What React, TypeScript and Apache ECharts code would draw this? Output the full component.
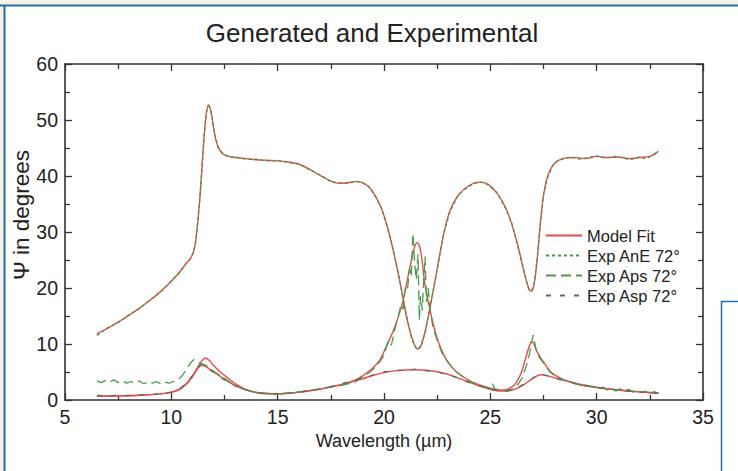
import React, { useEffect, useRef } from "react";
import * as echarts from "echarts";

// Wavelength (µm) / Ψ (degrees) pairs
const modelAnE: [number, number][] = [
  [6.5, 11.8], [7, 12.8], [7.5, 13.9], [8, 15.1], [8.5, 16.4], [9, 17.8], [9.5, 19.4], [10, 21.2],
  [10.4, 22.9], [10.7, 24.4], [10.9, 25.3], [11.05, 26.5], [11.15, 28.5], [11.25, 32], [11.35, 36.5],
  [11.45, 42], [11.55, 47.5], [11.65, 51.3], [11.75, 52.7], [11.85, 51.8], [11.95, 49.5], [12.05, 47.2],
  [12.2, 45.2], [12.4, 44.0], [12.7, 43.5], [13, 43.3], [13.5, 43.1], [14, 42.9], [14.5, 42.8],
  [15, 42.7], [15.5, 42.5], [16, 42.1], [16.5, 41.2], [17, 40.1], [17.5, 39.1], [17.9, 38.7],
  [18.3, 38.8], [18.7, 39.0], [19.0, 38.8], [19.3, 38.0], [19.6, 36.4], [19.9, 34.0], [20.2, 30.4],
  [20.5, 25.6], [20.8, 20.2], [21.05, 15.0], [21.3, 11.2], [21.5, 9.3], [21.6, 9.1], [21.75, 9.8],
  [21.95, 12.5], [22.2, 17.2], [22.5, 23.4], [22.8, 29.5], [23.1, 33.8], [23.5, 36.6], [24.0, 38.3],
  [24.5, 38.9], [24.9, 38.5], [25.3, 37.0], [25.7, 34.5], [26.0, 31.5], [26.3, 27.5], [26.6, 22.6],
  [26.8, 20.0], [26.92, 19.4], [27.05, 20.5], [27.2, 25.0], [27.35, 31.5], [27.5, 36.5], [27.7, 40.0],
  [28, 42.2], [28.4, 43.1], [29, 43.3], [29.5, 43.1], [30, 43.5], [30.5, 43.3], [31, 43.4],
  [31.5, 43.1], [32, 43.3], [32.5, 43.5], [32.9, 44.4],
];

const modelAps: [number, number][] = [
  [6.5, 0.7], [7.5, 0.75], [8.5, 0.85], [9.5, 1.1], [10, 1.4], [10.4, 2.0], [10.7, 2.9], [11.0, 4.3],
  [11.2, 5.6], [11.4, 6.8], [11.6, 7.5], [11.8, 7.0], [12.0, 6.1], [12.3, 5.0], [12.7, 3.8],
  [13.1, 2.7], [13.5, 1.9], [14, 1.35], [14.5, 1.15], [15, 1.1], [15.5, 1.2], [16, 1.4], [16.5, 1.65],
  [17, 1.95], [17.5, 2.3], [18, 2.7], [18.5, 3.3], [19, 4.3], [19.5, 5.8], [19.8, 7.1], [20.1, 9.5],
  [20.4, 12.0], [20.7, 15.2], [20.9, 17.8], [21.1, 21.5], [21.3, 25.2], [21.45, 27.5], [21.56, 28.1],
  [21.68, 27.4], [21.8, 24.6], [21.93, 20.5], [22.1, 17.2], [22.3, 13.8], [22.5, 11.0], [22.7, 9.0],
  [22.95, 7.1], [23.3, 5.4], [23.7, 4.2], [24.1, 3.3], [24.5, 2.7], [25, 2.1], [25.4, 1.8],
  [25.7, 1.8], [26.0, 2.3], [26.2, 3.0], [26.45, 4.8], [26.7, 8.0], [26.85, 9.8], [26.95, 10.4],
  [27.05, 10.0], [27.2, 8.6], [27.5, 6.8], [27.8, 5.2], [28.1, 4.3], [28.6, 3.4], [29.2, 2.7],
  [30, 2.2], [30.5, 2.0], [31, 1.8], [31.5, 1.6], [32, 1.5], [32.5, 1.35], [32.9, 1.3],
];

const modelAsp: [number, number][] = [
  [6.5, 0.7], [7.5, 0.75], [8.5, 0.85], [9.5, 1.1], [10, 1.35], [10.4, 1.9], [10.7, 2.8], [11.0, 4.2],
  [11.2, 5.4], [11.4, 6.2], [11.6, 6.0], [11.8, 5.5], [12.1, 4.7], [12.5, 3.7], [13, 2.6], [13.5, 1.8],
  [14, 1.35], [14.5, 1.15], [15, 1.1], [15.5, 1.2], [16, 1.4], [16.5, 1.65], [17, 1.95], [17.5, 2.35],
  [18, 2.8], [18.5, 3.3], [19, 3.8], [19.5, 4.4], [20, 4.9], [20.5, 5.2], [21, 5.35], [21.5, 5.4],
  [22, 5.3], [22.5, 5.05], [23, 4.6], [23.5, 3.9], [24, 3.2], [24.5, 2.5], [25, 1.9], [25.4, 1.6],
  [25.8, 1.6], [26.2, 2.0], [26.6, 2.8], [26.9, 3.6], [27.2, 4.3], [27.4, 4.5], [27.7, 4.3], [28, 4.0],
  [28.5, 3.5], [29, 3.0], [29.5, 2.6], [30, 2.3], [30.5, 2.0], [31, 1.8], [31.5, 1.6], [32, 1.45],
  [32.5, 1.3], [32.9, 1.25],
];

const expAnE: [number, number][] = [
  [6.5, 11.5], [7, 12.9], [7.5, 13.8], [8, 15.2], [8.5, 16.3], [9, 17.9], [9.5, 19.3], [10, 21.3],
  [10.4, 22.8], [10.7, 24.5], [10.9, 25.2], [11.05, 26.6], [11.15, 28.4], [11.25, 32.2], [11.35, 36.4],
  [11.45, 42.2], [11.55, 47.3], [11.65, 51.4], [11.75, 52.5], [11.85, 51.9], [11.95, 49.3], [12.05, 47.3],
  [12.2, 45.0], [12.4, 44.1], [12.7, 43.4], [13, 43.4], [13.5, 43.0], [14, 43.0], [14.5, 42.7],
  [15, 42.8], [15.5, 42.4], [16, 42.2], [16.5, 41.1], [17, 40.2], [17.5, 39.0], [17.9, 38.8],
  [18.3, 38.7], [18.7, 39.1], [19.0, 38.7], [19.3, 38.1], [19.6, 36.3], [19.9, 34.1], [20.2, 30.2],
  [20.5, 25.8], [20.8, 20.0], [21.05, 15.2], [21.3, 11.0], [21.5, 9.4], [21.6, 9.0], [21.75, 9.9],
  [21.95, 12.3], [22.2, 17.4], [22.5, 23.2], [22.8, 29.7], [23.1, 33.6], [23.5, 36.7], [24.0, 38.2],
  [24.5, 39.0], [24.9, 38.4], [25.3, 37.1], [25.7, 34.3], [26.0, 31.7], [26.3, 27.3], [26.6, 22.8],
  [26.8, 19.8], [26.92, 19.5], [27.05, 20.3], [27.2, 25.2], [27.35, 31.3], [27.5, 36.7], [27.7, 39.8],
  [28, 42.4], [28.4, 43.0], [28.8, 43.4], [29.2, 43.0], [29.6, 43.3], [30, 43.6], [30.4, 43.2],
  [30.8, 43.5], [31.2, 43.3], [31.6, 42.9], [32, 43.4], [32.3, 43.1], [32.6, 43.6], [32.9, 44.3],
];

const expAps: [number, number][] = [
  [6.5, 3.4], [6.7, 3.1], [6.9, 3.5], [7.1, 3.2], [7.3, 3.6], [7.5, 3.1], [7.7, 3.4], [7.9, 3.0],
  [8.1, 3.3], [8.3, 3.1], [8.5, 3.4], [8.7, 2.9], [8.9, 3.2], [9.1, 3.0], [9.3, 3.3], [9.5, 2.9],
  [9.7, 3.2], [9.9, 3.0], [10.1, 3.3], [10.3, 3.6], [10.5, 4.3], [10.7, 5.4], [10.9, 6.6], [11.05, 7.2],
  [11.2, 7.0], [11.35, 6.6], [11.5, 6.4], [11.7, 6.0], [11.9, 5.4], [12.2, 4.6], [12.6, 3.6],
  [13.0, 2.6], [13.5, 1.8], [14, 1.3], [14.5, 1.15], [15, 1.1], [15.5, 1.25], [16, 1.45], [16.5, 1.7],
  [17, 2.0], [17.5, 2.4], [18, 2.6], [18.3, 2.9], [18.6, 3.1], [18.9, 3.9], [19.2, 4.6], [19.5, 5.5],
  [19.8, 6.8], [20.0, 8.0], [20.2, 10.6], [20.35, 9.8], [20.5, 12.5], [20.65, 14.6], [20.8, 17.0],
  [20.9, 16.2], [21.0, 20.0], [21.1, 19.5], [21.2, 23.5], [21.28, 22.0], [21.36, 29.8], [21.45, 24.0],
  [21.52, 21.5], [21.6, 26.0], [21.66, 14.3], [21.72, 18.5], [21.8, 16.0], [21.86, 21.0], [21.93, 25.6],
  [22.0, 17.5], [22.08, 20.0], [22.16, 16.4], [22.3, 13.0], [22.47, 11.0], [22.7, 8.6], [22.94, 7.1],
  [23.3, 5.3], [23.7, 4.2], [24.1, 3.2], [24.5, 2.6], [24.8, 2.3], [25.0, 2.0], [25.1, 2.9],
  [25.2, 2.0], [25.5, 1.8], [25.8, 1.6], [26.1, 2.0], [26.3, 2.8], [26.5, 4.0], [26.7, 6.2],
  [26.85, 8.4], [26.95, 10.5], [27.02, 11.6], [27.1, 10.0], [27.2, 8.2], [27.35, 7.4], [27.5, 6.6],
  [27.8, 5.0], [28.1, 4.1], [28.5, 3.5], [29.0, 2.9], [29.5, 2.5], [29.9, 2.4], [30.1, 1.8],
  [30.3, 2.3], [30.5, 1.8], [30.7, 2.1], [30.9, 1.6], [31.1, 2.0], [31.3, 1.6], [31.5, 1.9],
  [31.7, 1.4], [31.9, 1.7], [32.1, 1.3], [32.3, 1.6], [32.5, 1.0], [32.7, 1.5], [32.9, 1.2],
];

const expAsp: [number, number][] = [
  [6.5, 0.8], [7, 0.75], [7.5, 0.85], [8, 0.8], [8.5, 0.9], [9, 0.95], [9.5, 1.1], [10, 1.4],
  [10.4, 2.0], [10.7, 3.0], [11.0, 4.4], [11.2, 5.6], [11.4, 6.3], [11.6, 6.0], [11.8, 5.4],
  [12.1, 4.6], [12.5, 3.6], [13, 2.5], [13.5, 1.8], [14, 1.3], [14.5, 1.1], [15, 1.1], [15.5, 1.2],
  [16, 1.4], [16.5, 1.7], [17, 2.0], [17.5, 2.4], [18, 2.9], [18.5, 3.4], [19, 3.9], [19.5, 4.5],
  [20, 5.0], [20.5, 5.3], [21, 5.3], [21.5, 5.5], [22, 5.2], [22.5, 5.0], [23, 4.5], [23.5, 3.9],
  [24, 3.1], [24.5, 2.5], [25, 1.9], [25.4, 1.6], [25.8, 1.7], [26.2, 2.1], [26.6, 2.9], [26.9, 3.7],
  [27.2, 4.4], [27.4, 4.6], [27.7, 4.3], [28, 3.9], [28.5, 3.4], [29, 3.0], [29.5, 2.6], [30, 2.2],
  [30.5, 2.0], [31, 1.8], [31.5, 1.6], [32, 1.4], [32.5, 1.3], [32.9, 1.2],
];

const legendNames = ["Model Fit", "Exp AnE 72°", "Exp Aps 72°", "Exp Asp 72°"];
const xTicks = { min: 5, max: 35, interval: 5 };
const yTicks = { min: 0, max: 60, interval: 10 };

const FONT = "Arial, 'Liberation Sans', sans-serif";
const RED = "#ec4a4a";
const AXIS = "#333333";
const TEXT = "#222222";
const FRAME_BLUE = "#1f6ea8";
const BEIGE = "#f8f1e6";

export default function App() {
  const ref = useRef<HTMLDivElement>(null);

  useEffect(() => {
    if (!ref.current) return;
    const chart = echarts.init(ref.current, null, { renderer: "svg" });

    const axisCommon = {
      type: "value" as const,
      axisLine: { show: true, onZero: false, lineStyle: { color: AXIS, width: 1.6 } },
      axisTick: { show: true, inside: true, length: 7, lineStyle: { color: AXIS, width: 1.3 } },
      minorTick: { show: true, splitNumber: 2, length: 5, lineStyle: { color: AXIS, width: 1.3 } },
      splitLine: { show: false },
      minorSplitLine: { show: false },
    };
    const labelStyle = { fontSize: 19.5, color: TEXT, fontFamily: FONT };

    const modelLine = (data: [number, number][]) => ({
      name: "Model Fit",
      type: "line" as const,
      data,
      showSymbol: false,
      symbol: "none",
      smooth: 0.3,
      lineStyle: { color: RED, width: 1.4 },
      itemStyle: { color: RED },
      z: 2,
    });
    const expLine = (name: string, data: [number, number][], color: string, dash: number[], width: number) => ({
      name,
      type: "line" as const,
      data,
      showSymbol: false,
      symbol: "none",
      lineStyle: { color, width, type: dash },
      itemStyle: { color },
      z: 3,
    });

    chart.setOption({
      animation: false,
      backgroundColor: "#ffffff",
      title: {
        text: "Generated and Experimental",
        left: 367,
        textAlign: "center",
        top: 15,
        textStyle: { fontSize: 26, fontWeight: "normal", color: TEXT, fontFamily: FONT },
      },
      legend: {
        data: legendNames,
        orient: "vertical",
        left: 540,
        top: 222,
        itemWidth: 36,
        itemHeight: 14,
        itemGap: 3,
        itemStyle: { opacity: 0 },
        textStyle: { fontSize: 16.5, lineHeight: 17, color: TEXT, fontFamily: FONT },
      },
      grid: { left: 65, top: 64, width: 638, height: 336, containLabel: false },
      xAxis: [
        {
          ...axisCommon,
          position: "bottom",
          ...xTicks,
          name: "Wavelength (µm)",
          nameLocation: "middle",
          nameGap: 30,
          nameTextStyle: { fontSize: 18, color: TEXT, fontFamily: FONT },
          axisLabel: { ...labelStyle, margin: 7 },
        },
        {
          ...axisCommon,
          position: "top",
          ...xTicks,
          axisLabel: { show: false },
        },
      ],
      yAxis: [
        {
          ...axisCommon,
          position: "left",
          ...yTicks,
          axisLabel: { ...labelStyle, margin: 7 },
        },
        {
          ...axisCommon,
          position: "right",
          ...yTicks,
          axisLabel: { show: false },
        },
      ],
      graphic: [
        { type: "rect", shape: { x: 0, y: 0, width: 738, height: 5 }, style: { fill: BEIGE }, silent: true },
        { type: "rect", shape: { x: 0, y: 5, width: 4, height: 466 }, style: { fill: BEIGE }, silent: true },
        { type: "line", shape: { x1: 0, y1: 5.5, x2: 738, y2: 5.5 }, style: { stroke: FRAME_BLUE, lineWidth: 2 }, silent: true },
        { type: "line", shape: { x1: 4.5, y1: 5, x2: 4.5, y2: 471 }, style: { stroke: FRAME_BLUE, lineWidth: 2 }, silent: true },
        { type: "line", shape: { x1: 721.5, y1: 301, x2: 721.5, y2: 471 }, style: { stroke: FRAME_BLUE, lineWidth: 1.5 }, silent: true },
        { type: "line", shape: { x1: 721, y1: 301.5, x2: 738, y2: 301.5 }, style: { stroke: FRAME_BLUE, lineWidth: 1.5 }, silent: true },
        {
          type: "text",
          x: 21,
          y: 215,
          rotation: Math.PI / 2,
          style: {
            text: "Ψ in degrees",
            fontSize: 22.5,
            fontFamily: FONT,
            fill: TEXT,
            align: "center",
            verticalAlign: "middle",
          },
          silent: true,
        },
      ],
      series: [
        modelLine(modelAnE),
        modelLine(modelAps),
        modelLine(modelAsp),
        expLine("Exp AnE 72°", expAnE, "#3f9b46", [3, 3], 1.3),
        expLine("Exp Aps 72°", expAps, "#479c4c", [10, 5], 1.3),
        expLine("Exp Asp 72°", expAsp, "#56705a", [5, 9], 1.3),
      ],
    });

    return () => chart.dispose();
  }, []);

  return (
    <div
      ref={ref}
      style={{ position: "fixed", left: 0, top: 0, width: 738, height: 471 }}
    />
  );
}
